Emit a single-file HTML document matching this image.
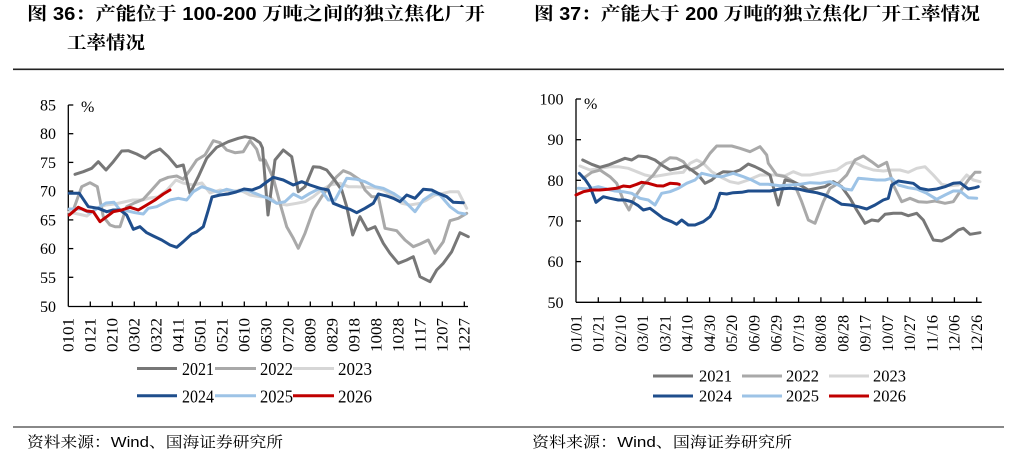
<!DOCTYPE html>
<html><head><meta charset="utf-8"><style>
html,body{margin:0;padding:0;background:#fff;}
svg{display:block;}
.t{font-family:"Liberation Sans","Noto Serif CJK SC",serif;font-weight:700;font-size:18px;fill:#000;}
.f{font-family:"Liberation Sans","Noto Serif CJK SC",serif;font-size:15px;fill:#000;}
.n{font-family:"Liberation Serif",serif;font-size:16px;fill:#000;}
.l{font-family:"Liberation Serif",serif;font-size:18px;fill:#000;}
.s{fill:none;stroke-width:3;stroke-linejoin:round;stroke-linecap:round;}
</style></head><body>
<svg width="1014" height="458" viewBox="0 0 1014 458" xmlns="http://www.w3.org/2000/svg">
<rect width="1014" height="458" fill="#fff"/>
<!-- titles -->
<text class="t" x="27" y="20" textLength="458" lengthAdjust="spacingAndGlyphs">图 36：产能位于 100-200 万吨之间的独立焦化厂开</text>
<text class="t" x="67" y="49" textLength="78" lengthAdjust="spacingAndGlyphs">工率情况</text>
<text class="t" x="534" y="20" textLength="446" lengthAdjust="spacingAndGlyphs">图 37：产能大于 200 万吨的独立焦化厂开工率情况</text>
<line x1="13" y1="69.3" x2="1004" y2="69.3" stroke="#222" stroke-width="1.6"/>
<line x1="13" y1="427" x2="1004" y2="427" stroke="#888" stroke-width="2"/>
<text class="f" x="27" y="447" textLength="256" lengthAdjust="spacingAndGlyphs">资料来源：Wind、国海证券研究所</text>
<text class="f" x="532" y="447" textLength="260" lengthAdjust="spacingAndGlyphs">资料来源：Wind、国海证券研究所</text>

<!-- LEFT CHART -->
<g stroke="#000" stroke-width="1.3">
<line x1="68.3" y1="105" x2="68.3" y2="306.5"/>
<line x1="68.3" y1="306.5" x2="468" y2="306.5"/>
<line x1="68.3" y1="105" x2="73.3" y2="105"/>
<line x1="68.3" y1="133.7" x2="73.3" y2="133.7"/>
<line x1="68.3" y1="162.4" x2="73.3" y2="162.4"/>
<line x1="68.3" y1="191.1" x2="73.3" y2="191.1"/>
<line x1="68.3" y1="219.9" x2="73.3" y2="219.9"/>
<line x1="68.3" y1="248.6" x2="73.3" y2="248.6"/>
<line x1="68.3" y1="277.3" x2="73.3" y2="277.3"/>
<path d="M90.3 306.5v-5M112.3 306.5v-5M134.3 306.5v-5M156.3 306.5v-5M178.3 306.5v-5M200.3 306.5v-5M222.3 306.5v-5M244.3 306.5v-5M266.3 306.5v-5M288.3 306.5v-5M310.3 306.5v-5M332.3 306.5v-5M354.3 306.5v-5M376.3 306.5v-5M398.3 306.5v-5M420.3 306.5v-5M442.3 306.5v-5M464.3 306.5v-5" fill="none"/>
</g>
<g class="n" text-anchor="end">
<text x="56" y="110.5">85</text><text x="56" y="139.2">80</text><text x="56" y="167.9">75</text><text x="56" y="196.6">70</text><text x="56" y="225.4">65</text><text x="56" y="254.1">60</text><text x="56" y="282.8">55</text><text x="56" y="312">50</text>
</g>
<text class="n" x="81" y="112" font-size="13">%</text>
<g class="n">
<text transform="translate(73.6,352) rotate(-90)" textLength="34" lengthAdjust="spacingAndGlyphs">0101</text>
<text transform="translate(95.6,352) rotate(-90)" textLength="34" lengthAdjust="spacingAndGlyphs">0121</text>
<text transform="translate(117.6,352) rotate(-90)" textLength="34" lengthAdjust="spacingAndGlyphs">0210</text>
<text transform="translate(139.6,352) rotate(-90)" textLength="34" lengthAdjust="spacingAndGlyphs">0302</text>
<text transform="translate(161.6,352) rotate(-90)" textLength="34" lengthAdjust="spacingAndGlyphs">0322</text>
<text transform="translate(183.6,352) rotate(-90)" textLength="34" lengthAdjust="spacingAndGlyphs">0411</text>
<text transform="translate(205.6,352) rotate(-90)" textLength="34" lengthAdjust="spacingAndGlyphs">0501</text>
<text transform="translate(227.6,352) rotate(-90)" textLength="34" lengthAdjust="spacingAndGlyphs">0521</text>
<text transform="translate(249.6,352) rotate(-90)" textLength="34" lengthAdjust="spacingAndGlyphs">0610</text>
<text transform="translate(271.6,352) rotate(-90)" textLength="34" lengthAdjust="spacingAndGlyphs">0630</text>
<text transform="translate(293.6,352) rotate(-90)" textLength="34" lengthAdjust="spacingAndGlyphs">0720</text>
<text transform="translate(315.6,352) rotate(-90)" textLength="34" lengthAdjust="spacingAndGlyphs">0809</text>
<text transform="translate(337.6,352) rotate(-90)" textLength="34" lengthAdjust="spacingAndGlyphs">0829</text>
<text transform="translate(359.6,352) rotate(-90)" textLength="34" lengthAdjust="spacingAndGlyphs">0918</text>
<text transform="translate(381.6,352) rotate(-90)" textLength="34" lengthAdjust="spacingAndGlyphs">1008</text>
<text transform="translate(403.6,352) rotate(-90)" textLength="34" lengthAdjust="spacingAndGlyphs">1028</text>
<text transform="translate(425.6,352) rotate(-90)" textLength="34" lengthAdjust="spacingAndGlyphs">1117</text>
<text transform="translate(447.6,352) rotate(-90)" textLength="34" lengthAdjust="spacingAndGlyphs">1207</text>
<text transform="translate(469.6,352) rotate(-90)" textLength="34" lengthAdjust="spacingAndGlyphs">1227</text>
</g>
<!-- left series -->
<polyline class="s" stroke="#d6d6d6" points="69,212 78,214 87,216 97,208 106,205 115,204 124,202 133,200 142,200 150,198 158,197 167,190 176,180 183,183 193,185 202,183 210,193 220,190 230,192 240,190 250,195 260,196.7 270,196.7 276.7,203.3 286.7,205 296.7,203.3 305,201.7 313.3,196.7 321.7,190 330,185 340,183.3 348.3,186.7 356.7,186.7 366.7,187.3 376.7,188.3 383.3,190 393.3,196.7 401.7,203.3 410,205 420,203.3 426.7,200 435,195 443.3,193.3 450,191.7 458.3,191.7 466.7,208.3"/>
<polyline class="s" stroke="#a9a9a9" points="73.3,210 81.7,186.7 90,182.7 97.3,186.7 103.3,216.7 110,225 115,226.7 120,226.7 126.7,206.7 135,202.7 143.3,199.3 151.7,190 160,180.7 168.3,177.3 176.7,176 183.3,179.3 190,170 196.7,160 205,155 213.3,140.7 220,142.7 226.7,150 235,152.7 243.3,151.7 250,140.7 256.7,149.3 260,160 265,160 273.3,178.3 280,203.3 286.7,226.7 293.3,238.3 298.3,248.3 305,233.3 313.3,210 321.7,196.7 330,185 336.7,176.7 343.3,170.7 350,173.3 360,180 365,190 371.7,196.7 378.3,196.7 385,228.3 396.7,230.7 405,240 413.3,246.7 420,244 428.3,240 435,253.3 443.3,241.7 450,220.7 458.3,218.3 466.7,213.3"/>
<polyline class="s" stroke="#777777" points="75,174.3 83.3,171.7 91.7,168.3 98.3,161.7 106,170 113.3,161.7 121.7,151 128.3,150.7 136.7,154 145,158.3 151.7,152.7 160,149 168.3,156.7 176.7,166.7 183.3,165 190,193.3 198.3,176.7 206.7,158.3 216.7,147.3 228.3,141.7 238.3,138.3 245,136.7 253.3,138.3 260,142.7 262.5,148 268,215 275,160 283.3,150 291.7,156.7 298.3,191.7 305,186.7 313.3,166.7 320,167.3 326.7,170 333.3,178.3 341.7,190 346.7,206.7 352.7,235 360,216.7 367.3,230 375,226.7 383.3,243.3 390,253.3 398.3,263.3 406.7,260 413.3,256.7 420,276.7 430,281.7 436.7,270 443.3,263.3 451.7,251.7 460,232.7 468.3,236.7"/>
<polyline class="s" stroke="#9dc3e6" points="69.3,209 81.7,209 90,213 98,208 106,203 114,202.3 120,210 126.7,210.7 135,212.7 143.3,214 148.3,208.3 156.7,206.7 163.3,203.3 170,200 178.3,198.3 186.7,200 193.3,191.7 201.7,186.7 210,189.3 218.3,192.3 226.7,189.3 236.7,191.7 246.7,190 255,193.3 261.7,196 268.3,198.3 276.7,203.3 285,201.7 293.3,194 301.7,198.3 310,193.3 320,188.3 328.3,200 335,200 346.7,178.3 356.7,179.3 365,181.7 375,186.7 383.3,188.3 393.3,193.3 403.3,200 415,211.7 423.3,200 433.3,193.3 440,195 450,206.7 458.3,212.7 465,214"/>
<polyline class="s" stroke="#1f4e8c" points="69.3,193.3 79.3,193.3 88.3,206.7 98.3,208.3 106.7,211.7 113.3,210 120,210 126.7,215 133.3,229.3 140,226.7 146.7,232.7 153.3,236 161.7,240 170,245 176.7,247.3 183.3,241.7 191.7,234 196.7,231.7 203.3,226.7 208.3,210 212,197 220,195 228,194 236,192 244,189 252,190 260,187 268,181 273.3,177.3 283.3,180 293.3,185 301.7,181.7 310,185 320,188.3 328.3,190 333.3,203.3 343.3,207.3 350,209.3 356.7,212.7 365,208.3 373.3,203.3 378.3,194 386.7,196 393.3,198.3 400,201.7 406.7,195 415,198.3 423.3,189.3 431.7,190 438.3,193.3 446.7,196.7 453.3,202.3 463.3,202.7"/>
<polyline class="s" stroke="#c00000" points="69.3,215 78.3,207.3 86.7,211 93.3,211.7 100,221.7 106.7,216.7 113.3,211.7 121.7,210 130,207.3 138.3,210 146.7,205 155,200 163.3,194 170,190"/>
<!-- left legend -->
<g stroke-width="3">
<line x1="137" y1="368.5" x2="177" y2="368.5" stroke="#777777"/>
<line x1="215" y1="368.5" x2="256" y2="368.5" stroke="#a9a9a9"/>
<line x1="293" y1="368.5" x2="334" y2="368.5" stroke="#d6d6d6"/>
<line x1="137" y1="395.8" x2="177" y2="395.8" stroke="#1f4e8c"/>
<line x1="215" y1="395.8" x2="256" y2="395.8" stroke="#9dc3e6"/>
<line x1="293" y1="395.8" x2="334" y2="395.8" stroke="#c00000"/>
</g>
<g class="l">
<text x="182" y="375" textLength="32" lengthAdjust="spacingAndGlyphs">2021</text>
<text x="260" y="375" textLength="33" lengthAdjust="spacingAndGlyphs">2022</text>
<text x="338" y="375" textLength="34" lengthAdjust="spacingAndGlyphs">2023</text>
<text x="182" y="402.3" textLength="32" lengthAdjust="spacingAndGlyphs">2024</text>
<text x="260" y="402.3" textLength="33" lengthAdjust="spacingAndGlyphs">2025</text>
<text x="338" y="402.3" textLength="34" lengthAdjust="spacingAndGlyphs">2026</text>
</g>

<!-- RIGHT CHART -->
<g stroke="#000" stroke-width="1.3">
<line x1="576" y1="99" x2="576" y2="302.3"/>
<line x1="576" y1="302.3" x2="981.7" y2="302.3"/>
<line x1="576" y1="99" x2="581" y2="99"/>
<line x1="576" y1="139.7" x2="581" y2="139.7"/>
<line x1="576" y1="180.3" x2="581" y2="180.3"/>
<line x1="576" y1="221" x2="581" y2="221"/>
<line x1="576" y1="261.6" x2="581" y2="261.6"/>
<path d="M598.3 302.3v-5M620.5 302.3v-5M642.8 302.3v-5M665 302.3v-5M687.3 302.3v-5M709.6 302.3v-5M731.8 302.3v-5M754.1 302.3v-5M776.3 302.3v-5M798.6 302.3v-5M820.9 302.3v-5M843.1 302.3v-5M865.4 302.3v-5M887.6 302.3v-5M909.9 302.3v-5M932.2 302.3v-5M954.4 302.3v-5M976.7 302.3v-5" fill="none"/>
</g>
<g class="n" text-anchor="end">
<text x="563.5" y="104.5">100</text><text x="563.5" y="145.2">90</text><text x="563.5" y="185.8">80</text><text x="563.5" y="226.5">70</text><text x="563.5" y="267.1">60</text><text x="563.5" y="307.8">50</text>
</g>
<text class="n" x="584" y="109" font-size="13">%</text>
<g class="n">
<text transform="translate(581.3,351.7) rotate(-90)" textLength="36.7" lengthAdjust="spacingAndGlyphs">01/01</text>
<text transform="translate(603.6,351.7) rotate(-90)" textLength="36.7" lengthAdjust="spacingAndGlyphs">01/21</text>
<text transform="translate(625.8,351.7) rotate(-90)" textLength="36.7" lengthAdjust="spacingAndGlyphs">02/10</text>
<text transform="translate(648.1,351.7) rotate(-90)" textLength="36.7" lengthAdjust="spacingAndGlyphs">03/01</text>
<text transform="translate(670.3,351.7) rotate(-90)" textLength="36.7" lengthAdjust="spacingAndGlyphs">03/21</text>
<text transform="translate(692.6,351.7) rotate(-90)" textLength="36.7" lengthAdjust="spacingAndGlyphs">04/10</text>
<text transform="translate(714.9,351.7) rotate(-90)" textLength="36.7" lengthAdjust="spacingAndGlyphs">04/30</text>
<text transform="translate(737.1,351.7) rotate(-90)" textLength="36.7" lengthAdjust="spacingAndGlyphs">05/20</text>
<text transform="translate(759.4,351.7) rotate(-90)" textLength="36.7" lengthAdjust="spacingAndGlyphs">06/09</text>
<text transform="translate(781.6,351.7) rotate(-90)" textLength="36.7" lengthAdjust="spacingAndGlyphs">06/29</text>
<text transform="translate(803.9,351.7) rotate(-90)" textLength="36.7" lengthAdjust="spacingAndGlyphs">07/19</text>
<text transform="translate(826.2,351.7) rotate(-90)" textLength="36.7" lengthAdjust="spacingAndGlyphs">08/08</text>
<text transform="translate(848.4,351.7) rotate(-90)" textLength="36.7" lengthAdjust="spacingAndGlyphs">08/28</text>
<text transform="translate(870.7,351.7) rotate(-90)" textLength="36.7" lengthAdjust="spacingAndGlyphs">09/17</text>
<text transform="translate(892.9,351.7) rotate(-90)" textLength="36.7" lengthAdjust="spacingAndGlyphs">10/07</text>
<text transform="translate(915.2,351.7) rotate(-90)" textLength="36.7" lengthAdjust="spacingAndGlyphs">10/27</text>
<text transform="translate(937.5,351.7) rotate(-90)" textLength="36.7" lengthAdjust="spacingAndGlyphs">11/16</text>
<text transform="translate(959.7,351.7) rotate(-90)" textLength="36.7" lengthAdjust="spacingAndGlyphs">12/06</text>
<text transform="translate(982,351.7) rotate(-90)" textLength="36.7" lengthAdjust="spacingAndGlyphs">12/26</text>
</g>
<!-- right series -->
<polyline class="s" stroke="#d6d6d6" points="580,166 590,170 600,168.3 610,166.7 618.3,166.7 628.3,168.3 636.7,171.7 645,175 653.3,176.7 663.3,175 673.3,173.3 683.3,172.3 690,163.3 696.7,160 703.3,163.3 711.7,171.7 720,176.7 730,181.7 738.3,183.3 748.3,180 760,175 770,175 778.3,175 785,175.7 793.3,171.7 801.7,175 810,175 818.3,173.3 826.7,171.7 836.7,170 846.7,163.3 853.3,161.7 863.3,166.7 873.3,170 883.3,171 891.7,170 900,170 908.3,172.3 916.7,168.3 925,166.7 933.3,175 941.7,184.3 950,185.7 958.3,185 966.7,175 973.3,180 980,181.7"/>
<polyline class="s" stroke="#a9a9a9" points="583.3,178.3 591.7,172.3 600,170 610,176.7 616.7,183.3 623.3,200 629,210 635,196.7 643.3,185 653.3,175 661.7,163.3 670,157.7 676.7,158.3 683.3,161.7 690,170 696.7,167.7 703.3,163.3 710,153.3 716.7,146 723.3,146 731.7,146 740,148.3 750,151.7 760,146.7 766.7,155 768.3,163.3 776.7,175 785,176.7 793.3,181.7 801.7,201.7 808.3,220 815,223.3 823.3,201.7 830,188.3 838.3,183.3 846.7,175 855,160 863.3,156 871.7,161.7 878.3,166.7 886.7,162.3 893.3,185 901.7,201.7 910,198.3 918.3,201.7 926.7,202.3 935,201 945,203.3 953.3,201.7 960,191.7 968.3,180 975,172.3 980,172.3"/>
<polyline class="s" stroke="#777777" points="582.7,160 591.7,164.3 600,167.3 608.3,165 616.7,161.7 625,158.3 631.7,160 638.3,156 646.7,156.7 655,160 661.7,165 670,170 678.3,168.3 685,166 691.7,170 698.3,175 705,183.3 711.7,180 718.3,174.3 723.3,171.7 733.3,172.3 740,170 748.3,164 755,166.7 761.7,170 770,175 778.3,205 785,180 793.3,181.7 800,185 808.3,190 816.7,188.3 825,186.7 833.3,181.7 841.7,186.7 850,198.3 856.7,210 865,223.3 871.7,220 878.3,221 885,214.3 893.3,213.3 901.7,213.3 908.3,215.7 916.7,213.3 923.3,220 933.3,240 941.7,241 950,236.7 958.3,230 963.3,228.3 970,234.3 980,232.7"/>
<polyline class="s" stroke="#9dc3e6" points="578.3,188.3 588.3,189 598.3,186.7 606.7,189 615,191 623.3,191.7 631.7,193.3 640,198.3 648.3,200 655,205 661.7,193.3 670,191.7 678.3,188.3 686.7,183.3 695,180 701.7,173.3 711.7,175.7 721.7,176.7 733.3,173.3 743.3,176.7 751.7,180 760,184.3 768.3,184.3 780,185.7 790,185 800,184.3 810,182.7 820,183.3 830,181.7 838.3,185 845,189 851.7,190 858.3,178.3 866.7,179 876.7,180 885,180 891.7,178.3 898.3,185 908.3,187.7 916.7,189 926.7,193.3 936.7,199.3 945,195 953.3,191 960,191 968.3,197.7 976.7,198.3"/>
<polyline class="s" stroke="#1f4e8c" points="579.3,173.3 585,179.3 590,186.7 596,202.3 603.3,196.7 610,198.3 618.3,200 625,200 631.7,201.7 638.3,205.7 643.3,210 650,208.3 656.7,213.3 663.3,218.3 671.7,221.7 676.7,224.3 681.7,220 688.3,225 695,225 703.3,221.7 710,216.7 715,208.3 720,193.3 726.7,194 733.3,192.7 741.7,192.3 748.3,191 756.7,191 770,191 780,189 790,188.3 798.3,189 806.7,191 816.7,192.7 825,195 831.7,198.3 841.7,204.3 850,205 858.3,206.7 866.7,209 875,205 883.3,200 888.3,198.3 891.7,185 898.3,181 906.7,182.3 913.3,183.3 920,188.3 928.3,190 936.7,189 945,186.7 953.3,183.3 960,182.7 968.3,189 975,187.7 978.3,186.7"/>
<polyline class="s" stroke="#c00000" points="576,195 583.3,191.7 591.7,190 600,190 608.3,189.3 616.7,188.3 623.3,186 630,186.7 636.7,184.3 641.7,182.3 648.3,183.3 656.7,185.7 663.3,186 670,183.3 676.7,183.7 679.3,184.3"/>
<!-- right legend -->
<g stroke-width="3">
<line x1="653" y1="376" x2="693" y2="376" stroke="#777777"/>
<line x1="742" y1="376" x2="782" y2="376" stroke="#a9a9a9"/>
<line x1="829" y1="376" x2="869" y2="376" stroke="#d6d6d6"/>
<line x1="653" y1="396" x2="693" y2="396" stroke="#1f4e8c"/>
<line x1="742" y1="396" x2="782" y2="396" stroke="#9dc3e6"/>
<line x1="829" y1="396" x2="869" y2="396" stroke="#c00000"/>
</g>
<g class="l" font-size="17">
<text x="699" y="381.7" font-size="17" textLength="33" lengthAdjust="spacingAndGlyphs">2021</text>
<text x="786" y="381.7" font-size="17" textLength="33" lengthAdjust="spacingAndGlyphs">2022</text>
<text x="873" y="381.7" font-size="17" textLength="33" lengthAdjust="spacingAndGlyphs">2023</text>
<text x="699" y="401.7" font-size="17" textLength="33" lengthAdjust="spacingAndGlyphs">2024</text>
<text x="786" y="401.7" font-size="17" textLength="33" lengthAdjust="spacingAndGlyphs">2025</text>
<text x="873" y="401.7" font-size="17" textLength="33" lengthAdjust="spacingAndGlyphs">2026</text>
</g>
</svg>
</body></html>
